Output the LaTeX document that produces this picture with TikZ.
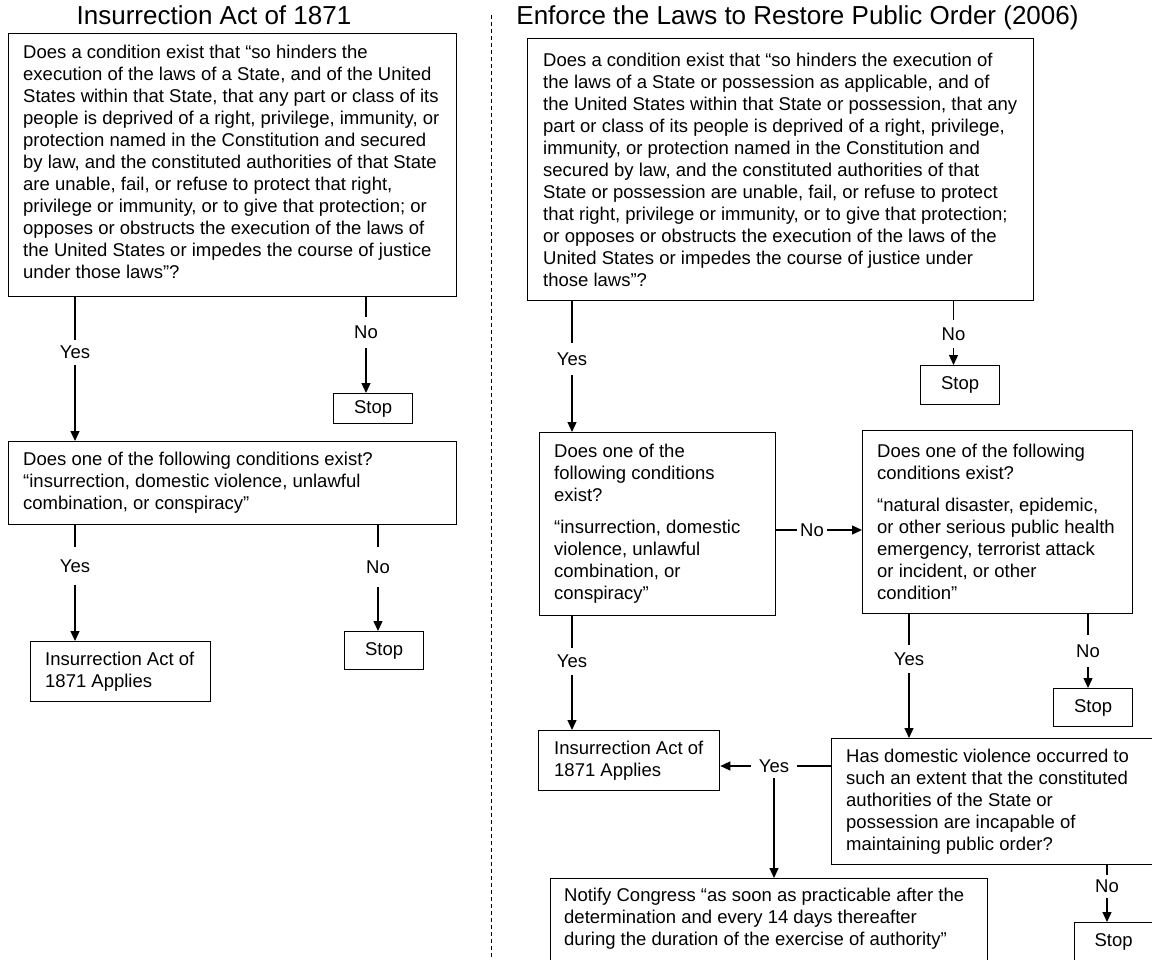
\documentclass[tikz,border=0pt]{standalone}
\usepackage{fontspec}
\setmainfont{Liberation Sans}
\usetikzlibrary{arrows.meta}
\tikzset{
  box/.style={draw, line width=1.3pt, inner sep=0pt, anchor=north west},
  txt/.style={inner sep=0pt, align=left, anchor=west, font=\fontsize{18.5}{22}\selectfont},
  stoptxt/.style={inner sep=0pt, font=\fontsize{18.5}{22}\selectfont},
  lbl/.style={inner sep=0pt, font=\fontsize{18.5}{22}\selectfont},
  ttl/.style={inner sep=0pt, anchor=base, font=\fontsize{26}{30}\selectfont},
  ln/.style={line width=1.3pt},
  arr/.style={line width=1.3pt, -{Triangle[length=10pt,width=9pt]}},
  divider/.style={line width=1pt, dash pattern=on 4pt off 3pt}
}
\begin{document}
\begin{tikzpicture}[x=1pt,y=-1pt]
\useasboundingbox (0,0) rectangle (1152,960);

% titles
\node[ttl] (T1) at (214,25) {Insurrection Act of 1871};
\node[ttl] (T2) at (797.5,25) {Enforce the Laws to Restore Public Order (2006)};

% divider
\coordinate (dtop) at (491,15);
\coordinate (dbot) at (491,960);
\draw[divider] (dtop) -- (dbot);

% ---------------- left side ----------------
\node[box, minimum width=448pt, minimum height=263pt] (L1) at (8,33) {};
\node[txt, yshift=3pt] (L1t) at ([xshift=15pt]L1.west) {Does a condition exist that “so hinders the\\
execution of the laws of a State, and of the United\\
States within that State, that any part or class of its\\
people is deprived of a right, privilege, immunity, or\\
protection named in the Constitution and secured\\
by law, and the constituted authorities of that State\\
are unable, fail, or refuse to protect that right,\\
privilege or immunity, or to give that protection; or\\
opposes or obstructs the execution of the laws of\\
the United States or impedes the course of justice\\
under those laws”?};

\node[box, minimum width=79pt, minimum height=30pt] (LS1) at (333,393) {};
\node[stoptxt] (LS1t) at (LS1.center) {Stop};

\node[box, minimum width=448pt, minimum height=83pt] (L2) at (8,441) {};
\node[txt] (L2t) at ([xshift=15pt]L2.west) {Does one of the following conditions exist?\\
“insurrection, domestic violence, unlawful\\
combination, or conspiracy”};

\node[box, minimum width=180pt, minimum height=60pt] (LA) at (30,641) {};
\node[txt] (LAt) at ([xshift=15pt]LA.west) {Insurrection Act of\\1871 Applies};

\node[box, minimum width=79pt, minimum height=38pt] (LS2) at (344,631) {};
\node[stoptxt] (LS2t) at (LS2.center) {Stop};

% left labels
\node[lbl, minimum height=25pt] (y1) at (75,352.5) {Yes};
\node[lbl, minimum height=31pt] (n1) at (366,332.5) {No};
\node[lbl, minimum height=38pt] (y2) at (75,566) {Yes};
\node[lbl, minimum height=40pt] (n2) at (378,567) {No};

\draw[ln] (L1.south -| y1) -- (y1);
\draw[arr] (y1) -- (L2.north -| y1);
\draw[ln] (L1.south -| n1) -- (n1);
\draw[arr] (n1) -- (LS1.north -| n1);
\draw[ln] (L2.south -| y2) -- (y2);
\draw[arr] (y2) -- (LA.north -| y2);
\draw[ln] (L2.south -| n2) -- (n2);
\draw[arr] (n2) -- (LS2.north -| n2);

% ---------------- right side ----------------
\node[box, minimum width=506pt, minimum height=262pt] (R1) at (527,38) {};
\node[txt] (R1t) at ([xshift=16pt]R1.west) {Does a condition exist that “so hinders the execution of\\
the laws of a State or possession as applicable, and of\\
the United States within that State or possession, that any\\
part or class of its people is deprived of a right, privilege,\\
immunity, or protection named in the Constitution and\\
secured by law, and the constituted authorities of that\\
State or possession are unable, fail, or refuse to protect\\
that right, privilege or immunity, or to give that protection;\\
or opposes or obstructs the execution of the laws of the\\
United States or impedes the course of justice under\\
those laws”?};

\node[box, minimum width=79pt, minimum height=39pt] (RS1) at (920,365) {};
\node[stoptxt] (RS1t) at (RS1.center) {Stop};

\node[box, minimum width=236pt, minimum height=183pt] (R2) at (539,432) {};
\node[txt] (R2t) at ([xshift=15pt]R2.west) {Does one of the\\
following conditions\\
exist?\\[10pt]
“insurrection, domestic\\
violence, unlawful\\
combination, or\\
conspiracy”};

\node[box, minimum width=270pt, minimum height=183pt] (R3) at (862,430) {};
\node[txt] (R3t) at ([xshift=15pt]R3.west) {Does one of the following\\
conditions exist?\\[10pt]
“natural disaster, epidemic,\\
or other serious public health\\
emergency, terrorist attack\\
or incident, or other\\
condition”};

\node[box, minimum width=79pt, minimum height=38pt] (RS2) at (1053,688) {};
\node[stoptxt] (RS2t) at (RS2.center) {Stop};

\node[box, minimum width=181pt, minimum height=60pt] (RA) at (538,730) {};
\node[txt] (RAt) at ([xshift=16pt]RA.west) {Insurrection Act of\\1871 Applies};

\node[box, minimum width=322pt, minimum height=126pt] (R4) at (831,738) {};
\node[txt] (R4t) at ([xshift=15pt]R4.west) {Has domestic violence occurred to\\
such an extent that the constituted\\
authorities of the State or\\
possession are incapable of\\
maintaining public order?};

\node[box, minimum width=437pt, minimum height=82pt] (NC) at (550,878) {};
\node[txt, yshift=1pt] (NCt) at ([xshift=14pt]NC.west) {Notify Congress “as soon as practicable after the\\
determination and every 14 days thereafter\\
during the duration of the exercise of authority”};

\node[box, minimum width=78pt, minimum height=38pt] (RS3) at (1074,922) {};
\node[stoptxt] (RS3t) at (RS3.center) {Stop};

% right labels
\node[lbl, minimum height=32pt] (yR1) at (572,359) {Yes};
\node[lbl, minimum height=28pt] (nR1) at (953.5,334) {No};
\node[lbl, minimum width=30pt, minimum height=20pt] (nR2) at (812,530) {No};
\node[lbl, minimum height=27pt] (yR2) at (572,661.5) {Yes};
\node[lbl, minimum height=28pt] (yR3) at (909,659) {Yes};
\node[lbl, minimum height=32pt] (nR3) at (1088,651) {No};
\node[lbl, minimum width=46pt, minimum height=24pt] (yR4) at (774,766) {Yes};
\node[lbl, minimum height=23pt] (nR4) at (1107,886.5) {No};

\draw[ln] (R1.south -| yR1) -- (yR1);
\draw[arr] (yR1) -- (R2.north -| yR1);
\draw[ln] (R1.south -| nR1) -- (nR1);
\draw[arr] (nR1) -- (RS1.north -| nR1);
\draw[ln] (R2.east |- nR2) -- (nR2);
\draw[arr] (nR2) -- (R3.west |- nR2);
\draw[ln] (R2.south -| yR2) -- (yR2);
\draw[arr] (yR2) -- (RA.north -| yR2);
\draw[ln] (R3.south -| yR3) -- (yR3);
\draw[arr] (yR3) -- (R4.north -| yR3);
\draw[ln] (R3.south -| nR3) -- (nR3);
\draw[arr] (nR3) -- (RS2.north -| nR3);
\draw[ln] (R4.west |- yR4) -- (yR4);
\draw[arr] (yR4) -- (RA.east |- yR4);
\draw[arr] (yR4) -- (NC.north -| yR4);
\draw[ln] (R4.south -| nR4) -- (nR4);
\draw[arr] (nR4) -- (RS3.north -| nR4);
\end{tikzpicture}
\end{document}
